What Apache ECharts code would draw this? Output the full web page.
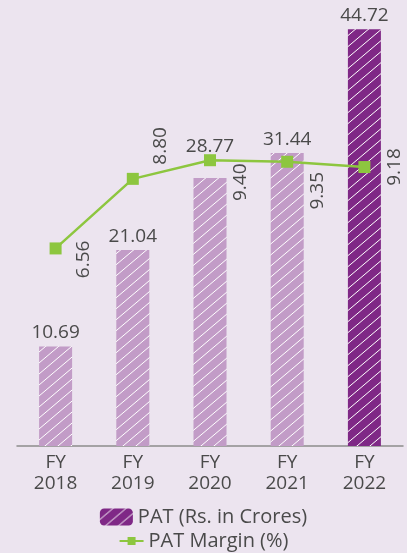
<!DOCTYPE html>
<html>
<head>
<meta charset="utf-8">
<script src="https://cdn.jsdelivr.net/npm/echarts@6/dist/echarts.min.js"></script>
<style>html,body{margin:0;padding:0;background:#ece4ef}#main{width:407px;height:553px}</style>
</head>
<body>
<div id="main"></div>
<script>
var years = ['FY\n2018', 'FY\n2019', 'FY\n2020', 'FY\n2021', 'FY\n2022'];
var patValues = [10.69, 21.04, 28.77, 31.44, 44.72];
var marginValues = [6.56, 8.80, 9.40, 9.35, 9.18];
// label nudges (px): bar labels lifted where the line would cover them,
// margin labels placed beside their markers (rotated frame)
var patLabelShift = [[0, 0], [0, 0], [0, -18], [0, 0], [0, 0]];
var marginLabelShift = [[-11, 28], [33, 28], [-22, 31], [-29, 30], [0, 30]];

function hatch(bg) {
    var w = 13, h = 11;
    var c = document.createElement('canvas');
    c.width = w; c.height = h;
    var g = c.getContext('2d');
    g.fillStyle = bg;
    g.fillRect(0, 0, w, h);
    g.strokeStyle = '#ffffff';
    g.lineWidth = 1;
    g.beginPath();
    g.moveTo(-w, 2 * h); g.lineTo(2 * w, -h);
    g.moveTo(-w, h); g.lineTo(w, -h);
    g.moveTo(0, 2 * h); g.lineTo(2 * w, 0);
    g.stroke();
    return {image: c, repeat: 'repeat'};
}
var darkPat = hatch('#7f2886');
var lightPat = hatch('#c29cc7');

var font = 'Open Sans';
var txt = '#4a4a4a';

var myChart = echarts.init(document.getElementById('main'));

option = {
    backgroundColor: '#ece4ef',
    animation: false,
    grid: {left: 17, right: 4, top: 8, bottom: 107},
    legend: [
        {
            data: ['PAT (Rs. in Crores)'],
            left: 'center', top: 502,
            itemWidth: 33, itemHeight: 17, itemGap: 5,
            textStyle: {fontFamily: font, fontSize: 20, color: txt}
        },
        {
            data: ['PAT Margin (%)'],
            left: 'center', top: 526,
            itemWidth: 24, itemHeight: 10,
            textStyle: {fontFamily: font, fontSize: 20, color: txt}
        }
    ],
    xAxis: {
        type: 'category',
        data: years,
        axisLine: {lineStyle: {color: '#8c8c8c', width: 1.5}},
        axisTick: {inside: true, length: 8, lineStyle: {color: '#8c8c8c', width: 1.5}},
        axisLabel: {fontFamily: font, fontSize: 19, color: txt, lineHeight: 21, margin: 6}
    },
    yAxis: [
        {type: 'value', min: 0, max: 47, show: false, splitLine: {show: false}},
        {type: 'value', min: 0.2, max: 14.3, show: false, splitLine: {show: false}}
    ],
    series: [
        {
            name: 'PAT (Rs. in Crores)',
            type: 'bar',
            barWidth: 33,
            itemStyle: {color: darkPat},
            data: patValues.map(function (v, i) {
                return {
                    value: v,
                    itemStyle: {color: i === patValues.length - 1 ? darkPat : lightPat},
                    label: {offset: patLabelShift[i]}
                };
            }),
            label: {
                show: true, position: 'top', distance: 4,
                fontFamily: font, fontSize: 19, color: txt,
                formatter: function (p) { return p.value.toFixed(2); }
            }
        },
        {
            name: 'PAT Margin (%)',
            type: 'line',
            yAxisIndex: 1,
            symbol: 'rect',
            symbolSize: 12,
            lineStyle: {color: '#8dc63f', width: 2.5},
            itemStyle: {color: '#8dc63f'},
            data: marginValues.map(function (v, i) {
                return {value: v, label: {offset: marginLabelShift[i]}};
            }),
            label: {
                show: true, position: 'inside', rotate: 90,
                align: 'center', verticalAlign: 'middle',
                fontFamily: font, fontSize: 19, color: txt,
                formatter: function (p) { return p.value.toFixed(2); }
            }
        }
    ]
};

myChart.setOption(option);
</script>
</body>
</html>
